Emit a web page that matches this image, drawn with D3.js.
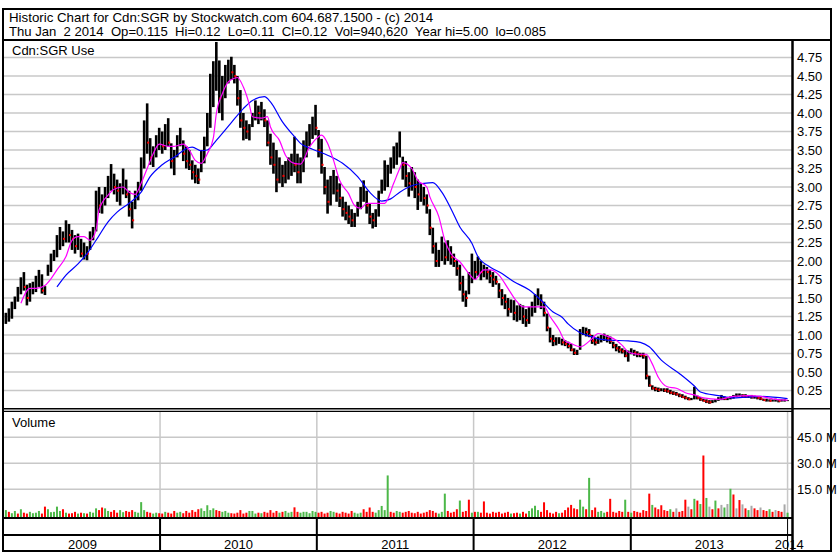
<!DOCTYPE html>
<html>
<head>
<meta charset="utf-8">
<script src="https://cdnjs.cloudflare.com/ajax/libs/d3/7.8.5/d3.min.js"></script>
<style>
body{margin:0;background:#fff}
svg text{font-family:"Liberation Sans",Arial,sans-serif}
</style>
</head>
<body>
<script>
var title1 = 'Historic Chart for Cdn:SGR by Stockwatch.com 604.687.1500 - (c) 2014'
var title2 = 'Thu Jan  2 2014  Op=0.115  Hi=0.12  Lo=0.11  Cl=0.12  Vol=940,620  Year hi=5.00  lo=0.085'
var priceLabel = 'Cdn:SGR Use'
var volLabel = 'Volume'
var years = ['2009','2010','2011','2012','2013','2014']
var priceTicks = [0.25,0.5,0.75,1,1.25,1.5,1.75,2,2.25,2.5,2.75,3,3.25,3.5,3.75,4,4.25,4.5,4.75]
var volTicks = [15,30,45]

// weekly bars, first week starts Mon Jan 5 2009
var high = [
	1.30,1.36,1.45,1.52,1.65,1.78,1.85,1.68,1.70,1.72,
	1.80,1.88,1.82,1.66,1.95,2.10,2.15,2.35,2.46,2.40,
	2.55,2.50,2.42,2.35,2.37,2.30,2.25,2.20,2.40,2.46,
	2.95,3.00,2.90,3.00,3.15,3.31,3.18,3.10,3.05,3.25,
	3.10,2.95,2.80,2.95,3.07,3.40,3.90,4.13,3.66,3.55,
	3.70,3.80,3.75,3.85,3.93,3.59,3.50,3.70,3.80,3.63,
	3.55,3.50,3.36,3.30,3.25,3.50,3.68,4.00,4.53,4.70,
	4.96,4.71,4.50,4.65,4.72,4.76,4.65,4.50,4.31,4.00,
	3.90,3.85,4.00,4.17,4.10,4.15,4.05,3.90,3.72,3.60,
	3.50,3.40,3.30,3.35,3.40,3.45,3.68,3.45,3.40,3.63,
	3.75,3.85,3.95,4.11,3.77,3.65,3.27,3.10,3.15,3.23,
	3.15,3.05,2.87,2.80,2.75,2.70,2.65,2.80,3.00,3.09,
	2.95,2.78,2.65,2.70,2.95,3.10,3.36,3.30,3.40,3.55,
	3.60,3.75,3.41,3.35,3.20,3.27,3.20,3.10,3.05,3.00,
	2.90,2.70,2.45,2.25,2.15,2.33,2.25,2.28,2.20,2.10,
	2.01,1.95,1.80,1.60,1.85,2.10,2.00,2.06,2.00,1.95,
	1.92,1.88,1.85,1.80,1.70,1.62,1.55,1.50,1.48,1.47,
	1.40,1.42,1.40,1.35,1.38,1.45,1.55,1.63,1.55,1.45,
	1.29,1.10,1.00,0.97,0.97,0.95,0.93,0.91,0.88,0.82,
	0.80,1.08,1.11,1.10,1.08,1.00,0.96,0.98,1.00,1.02,
	1.00,0.98,0.91,0.88,0.85,0.82,0.80,0.79,0.82,0.80,
	0.78,0.76,0.76,0.72,0.45,0.32,0.30,0.29,0.28,0.28,
	0.28,0.26,0.24,0.23,0.21,0.20,0.18,0.16,0.15,0.30,
	0.18,0.16,0.14,0.13,0.12,0.12,0.13,0.16,0.19,0.17,
	0.16,0.17,0.19,0.21,0.21,0.20,0.20,0.19,0.19,0.18,
	0.17,0.16,0.14,0.14,0.13,0.13,0.14,0.13,0.13,0.13,0.12]
var low = [
	1.15,1.18,1.22,1.35,1.45,1.55,1.60,1.40,1.45,1.55,
	1.58,1.65,1.56,1.54,1.80,1.85,2.00,2.05,2.15,2.20,
	2.25,2.25,2.15,2.10,2.15,2.05,2.02,2.01,2.15,2.28,
	2.40,2.65,2.64,2.75,2.85,2.95,2.90,2.80,2.75,2.90,
	2.85,2.60,2.44,2.70,2.82,2.95,3.25,3.45,3.30,3.27,
	3.40,3.50,3.45,3.50,3.55,3.25,3.16,3.40,3.55,3.35,
	3.25,3.23,3.10,3.05,3.04,3.20,3.32,3.55,3.80,4.08,
	4.30,4.00,3.90,4.20,4.40,4.45,4.40,4.10,3.80,3.63,
	3.65,3.63,3.81,3.90,3.85,3.90,3.81,3.55,3.30,3.18,
	2.93,3.05,3.00,3.05,3.10,3.15,3.20,3.05,3.05,3.20,
	3.40,3.55,3.65,3.70,3.40,3.18,2.90,2.64,2.75,2.90,
	2.80,2.73,2.60,2.55,2.50,2.46,2.46,2.60,2.70,2.80,
	2.64,2.50,2.44,2.46,2.60,2.91,2.95,3.00,3.18,3.25,
	3.30,3.40,3.10,3.00,2.87,2.95,2.85,2.69,2.80,2.75,
	2.64,2.35,2.10,1.92,1.92,2.00,1.95,2.00,1.95,1.92,
	1.80,1.60,1.45,1.38,1.55,1.70,1.75,1.80,1.74,1.78,
	1.75,1.70,1.65,1.68,1.50,1.40,1.35,1.25,1.30,1.20,
	1.18,1.20,1.15,1.11,1.15,1.25,1.30,1.40,1.35,1.25,
	1.05,0.90,0.85,0.86,0.88,0.86,0.85,0.82,0.78,0.73,
	0.73,0.80,1.00,0.98,0.97,0.88,0.86,0.88,0.90,0.92,
	0.90,0.88,0.82,0.78,0.76,0.75,0.70,0.64,0.74,0.72,
	0.70,0.70,0.68,0.40,0.30,0.26,0.24,0.23,0.24,0.23,
	0.22,0.20,0.19,0.18,0.16,0.15,0.13,0.12,0.12,0.13,
	0.13,0.11,0.10,0.08,0.07,0.08,0.09,0.11,0.12,0.12,
	0.12,0.13,0.14,0.16,0.17,0.16,0.15,0.15,0.14,0.14,
	0.13,0.12,0.11,0.10,0.10,0.10,0.10,0.09,0.10,0.10,0.11]
var close = [
	1.20,1.30,1.40,1.48,1.60,1.72,1.65,1.50,1.62,1.65,
	1.75,1.80,1.60,1.60,1.90,2.05,2.10,2.25,2.40,2.30,
	2.45,2.35,2.30,2.20,2.30,2.10,2.15,2.10,2.35,2.40,
	2.85,2.75,2.80,2.90,3.05,3.10,3.00,2.95,3.00,3.10,
	2.90,2.70,2.55,2.85,2.95,3.30,3.70,3.60,3.40,3.45,
	3.60,3.65,3.55,3.70,3.60,3.35,3.40,3.60,3.70,3.45,
	3.35,3.30,3.20,3.15,3.10,3.45,3.55,3.90,4.30,4.50,
	4.60,4.20,4.30,4.50,4.60,4.55,4.50,4.20,3.90,3.80,
	3.75,3.80,3.95,4.05,4.00,4.00,3.90,3.60,3.40,3.30,
	3.10,3.25,3.15,3.20,3.30,3.35,3.30,3.20,3.25,3.50,
	3.65,3.75,3.85,3.80,3.50,3.30,3.00,2.80,3.00,3.05,
	2.95,2.85,2.70,2.65,2.60,2.55,2.58,2.75,2.90,2.95,
	2.75,2.60,2.55,2.62,2.90,3.00,3.20,3.20,3.30,3.45,
	3.50,3.55,3.30,3.15,3.05,3.10,3.00,2.90,2.95,2.85,
	2.75,2.45,2.20,2.00,2.05,2.20,2.05,2.15,2.05,2.00,
	1.90,1.70,1.55,1.50,1.75,1.95,1.85,1.95,1.85,1.88,
	1.85,1.80,1.75,1.72,1.60,1.50,1.45,1.35,1.40,1.30,
	1.30,1.35,1.25,1.20,1.30,1.40,1.45,1.50,1.45,1.30,
	1.10,0.95,0.92,0.92,0.92,0.90,0.88,0.85,0.80,0.76,
	0.78,1.02,1.05,1.04,1.00,0.92,0.90,0.95,0.96,0.98,
	0.95,0.92,0.86,0.82,0.80,0.78,0.72,0.76,0.78,0.76,
	0.74,0.73,0.72,0.45,0.32,0.28,0.27,0.26,0.26,0.25,
	0.24,0.22,0.21,0.20,0.18,0.16,0.15,0.13,0.13,0.18,
	0.15,0.13,0.11,0.10,0.09,0.10,0.11,0.14,0.15,0.14,
	0.14,0.15,0.17,0.19,0.19,0.18,0.17,0.17,0.16,0.16,
	0.15,0.14,0.12,0.12,0.11,0.11,0.12,0.11,0.11,0.12,0.12]
// volume in millions, one bar per week
var volume = [
	3.0,2.0,1.2,2.5,1.0,3.5,1.5,1.0,2.0,1.2,
	1.5,2.5,1.0,5.0,3.5,1.8,2.0,5.0,2.5,3.5,
	1.5,1.0,1.2,2.0,1.0,1.5,1.2,1.0,2.0,1.5,
	4.0,3.0,4.5,4.0,2.5,2.0,3.0,1.5,3.0,1.8,
	2.5,2.0,3.0,2.0,1.5,7.6,3.0,2.0,1.5,1.0,
	1.5,1.2,1.0,2.0,1.5,1.0,2.5,1.5,2.0,1.2,
	2.5,1.5,3.0,2.0,3.5,4.0,2.5,5.8,3.0,4.0,
	3.0,2.5,2.0,2.5,1.5,1.2,1.0,1.5,3.0,1.0,
	1.5,2.5,2.5,1.0,1.5,1.2,2.0,1.5,3.0,1.5,
	2.5,1.5,2.0,2.5,1.5,2.0,4.6,2.0,1.5,2.0,
	2.0,1.2,2.5,2.0,1.5,2.0,1.0,1.5,2.5,2.0,
	1.5,1.0,2.0,1.5,1.0,2.5,1.5,1.0,1.5,3.5,
	2.0,4.5,2.0,1.5,3.0,5.4,3.0,23.0,2.0,1.5,
	2.5,2.0,1.5,2.0,2.5,1.5,1.2,2.0,1.0,1.5,
	2.0,3.0,2.5,1.5,1.0,2.0,12.5,2.5,1.5,2.0,
	3.5,8.5,2.0,2.5,9.0,1.5,2.0,2.0,1.5,8.0,
	1.5,1.0,2.0,1.5,2.0,1.0,1.5,2.0,1.0,1.2,
	1.5,1.0,2.0,1.0,2.5,4.0,5.5,3.0,2.0,7.5,
	3.0,1.5,1.0,2.0,1.2,1.5,3.0,4.5,6.0,4.0,
	3.5,9.0,5.0,3.5,21.6,3.0,4.5,2.0,2.5,1.5,
	2.0,9.5,2.0,1.5,2.5,2.0,9.0,2.0,1.5,2.5,
	2.0,1.5,3.0,2.5,12.5,6.0,4.5,3.5,5.8,3.0,
	2.5,3.5,2.0,4.0,2.0,2.5,9.0,5.0,3.5,9.5,
	8.5,6.5,34.5,10.0,5.0,3.5,8.5,4.0,6.0,4.5,
	6.5,15.3,12.0,4.0,8.8,6.3,4.0,3.0,5.5,4.0,
	3.0,4.5,3.0,2.5,3.5,2.0,3.0,2.5,2.0,6.3,1.5]
// g = up, r = down, n = unchanged
var volColor = (
	'grggrgrrgg' + 'ggrrgggggr' + 'grrrgrgrgg' + 'grrggrrrgg' + 'rrrggggrrg' +
	'grrgrrrggr' + 'rrrrrggggg' + 'rrgggrrrrr' + 'rgggrgrrrr' + 'rgrgggrrgg' +
	'ggggrrrrgg' + 'rrrrrrgggr' + 'rrrgggggrr' + 'ggrrrrrrrr' + 'rrrrgggrrr' +
	'rgrrrgrgrr' + 'rrrrrrrrgr' + 'rgrrggggrr' + 'rrrrgrrrrr' + 'rggrgrrggg' +
	'rrrrrrgrgr' + 'rrrrrgrrrr' + 'rgrnrrrnrg' + 'rgrgnrgrng' + 'ngrnrnrgnr' +
	'rnrrgrnrrng').split('')
// moving averages: [week, price]
var fastMA = [[5,1.43],[8,1.63],[10,1.63],[13,1.67],[15,1.76],[17,1.88],[20,2.06],[22,2.28],[24,2.33],[26,2.33],
	[28,2.28],[30,2.42],[31,2.69],[34,2.89],[36,2.97],[39,3.00],[41,2.93],[43,2.90],[45,3.05],[47,3.25],
	[49,3.45],[51,3.58],[54,3.55],[56,3.55],[59,3.58],[61,3.50],[63,3.36],[65,3.32],[67,3.45],[69,3.66],
	[70,3.99],[72,4.26],[74,4.42],[76,4.47],[77,4.48],[79,4.35],[81,4.11],[82,3.95],[85,3.93],[87,3.95],
	[88,3.81],[91,3.63],[93,3.43],[96,3.32],[98,3.31],[101,3.54],[104,3.68],[105,3.70],[107,3.59],[109,3.36],
	[111,3.09],[114,2.91],[116,2.75],[118,2.71],[120,2.78],[124,2.78],[126,2.78],[129,3.05],[131,3.25],[132,3.33],
	[135,3.25],[137,3.09],[140,3.00],[141,2.87],[144,2.60],[146,2.28],[148,2.10],[151,1.99],[154,1.83],[156,1.75],
	[159,1.88],[161,1.88],[164,1.81],[167,1.63],[170,1.45],[172,1.38],[176,1.38],[179,1.38],[181,1.25],[184,1.07],
	[186,0.92],[188,0.885],[191,0.84],[195,0.95],[197,1.02],[200,0.985],[203,0.93],[205,0.86],[207,0.77],[210,0.74],
	[213,0.74],[215,0.61],[217,0.43],[220,0.30],[223,0.28],[226,0.22],[229,0.19],[232,0.15],[237,0.13],[242,0.17],
	[247,0.18],[251,0.17],[256,0.13],[260,0.12]]
var slowMA = [[17,1.65],[20,1.81],[24,1.96],[27,2.10],[30,2.28],[34,2.53],[37,2.66],[41,2.78],[45,2.93],[48,3.14],
	[52,3.30],[57,3.43],[60,3.52],[62,3.54],[65,3.49],[67,3.50],[70,3.63],[75,3.87],[79,4.06],[82,4.17],
	[86,4.22],[88,4.15],[92,3.88],[96,3.68],[98,3.59],[102,3.51],[107,3.43],[112,3.32],[117,3.14],[121,2.93],
	[125,2.81],[128,2.84],[131,2.93],[136,3.03],[139,3.05],[142,3.06],[145,2.93],[148,2.71],[151,2.46],[155,2.24],
	[157,2.06],[161,1.92],[165,1.83],[169,1.72],[174,1.61],[178,1.47],[182,1.31],[185,1.24],[187,1.15],[191,1.03],
	[195,0.975],[198,0.94],[201,0.93],[207,0.92],[211,0.90],[214,0.84],[218,0.66],[224,0.48],[229,0.31],[231,0.23],
	[237,0.18],[242,0.15],[251,0.17],[260,0.14]]

var font = '"Liberation Sans",Arial,sans-serif'
var svg = d3.select('body').append('svg').attr('width',838).attr('height',556)
svg.append('rect').attr('width',838).attr('height',556).attr('fill','#fff')

var x  = d3.scaleTime().domain([new Date(2009,0,5),new Date(2014,0,2)]).range([5,788])
var y  = d3.scaleLinear().domain([0,5]).range([409,39])
var yv = d3.scaleLinear().domain([0,60]).range([515.3,411.3])
var plotL = 4, plotR = 792, volBase = 517

var weeks = d3.timeMonday.range(new Date(2009,0,5),new Date(2014,0,1))
function wx(i){ return x(new Date(weeks[0].getTime() + (i*7+2)*864e5)) }
var yearStarts = d3.timeYear.range(new Date(2010,0,1),new Date(2014,0,2))

svg.append('clipPath').attr('id','frameClip').append('rect')
	.attr('x',0).attr('y',0).attr('width',830).attr('height',556)
svg.append('clipPath').attr('id','priceClip').append('rect')
	.attr('x',plotL).attr('y',41).attr('width',plotR-plotL).attr('height',367)

// grid
var grid = svg.append('g').attr('id','grid').attr('stroke','#c8c8c8').attr('stroke-width',1.5)
priceTicks.forEach(function(t){
	grid.append('line').attr('x1',plotL).attr('x2',plotR).attr('y1',y(t)).attr('y2',y(t))
})
volTicks.forEach(function(t){
	grid.append('line').attr('x1',plotL).attr('x2',plotR).attr('y1',yv(t)).attr('y2',yv(t))
})
yearStarts.forEach(function(d){
	grid.append('line').attr('x1',x(d)).attr('x2',x(d)).attr('y1',412).attr('y2',volBase)
})

// price bars
var bars = svg.append('g').attr('id','bars').attr('clip-path','url(#priceClip)')
high.forEach(function(h,i){
	var cx = wx(i)
	bars.append('rect').attr('x',cx-1.3).attr('width',2.6)
		.attr('y',y(h)).attr('height',Math.max(1,y(low[i])-y(h))).attr('fill','#000')
})
close.forEach(function(c,i){
	if(i>0 && c<close[i-1]){
		bars.append('rect').attr('x',wx(i)).attr('width',2)
			.attr('y',y(c)-1).attr('height',2).attr('fill','#ff0000')
	}
})

// moving averages
var maLine = d3.line()
	.x(function(d){ return wx(d[0]) })
	.y(function(d){ return y(d[1]) })
	.curve(d3.curveMonotoneX)
bars.append('path').datum(slowMA).attr('d',maLine)
	.attr('fill','none').attr('stroke','#0000ff').attr('stroke-width',1.2)
bars.append('path').datum(fastMA).attr('d',maLine)
	.attr('fill','none').attr('stroke','#ff00ff').attr('stroke-width',1.2)

// volume bars
var colorOf = {g:'#4cb848',r:'#ff0000',n:'#a8a8a8'}
var vol = svg.append('g').attr('id','volume')
volume.forEach(function(v,i){
	vol.append('rect').attr('x',wx(i)-1).attr('width',2)
		.attr('y',yv(v)).attr('height',volBase-yv(v)).attr('fill',colorOf[volColor[i]])
})

// right axes
var pAxis = svg.append('g').attr('transform','translate(793,0)')
	.call(d3.axisRight(y).tickValues(priceTicks).tickSize(0).tickPadding(4).tickFormat(d3.format('.2f')))
pAxis.select('.domain').remove()
pAxis.attr('font-size',13).attr('font-family',font)
pAxis.selectAll('text').attr('fill','#000')

var vAxis = svg.append('g').attr('transform','translate(793,0)').attr('clip-path','url(#frameClip)')
	.call(d3.axisRight(yv).tickValues(volTicks).tickSize(0).tickPadding(4)
		.tickFormat(function(d){ return d3.format('.1f')(d) + ' M' }))
vAxis.select('.domain').remove()
vAxis.attr('font-size',13).attr('font-family',font)
vAxis.selectAll('text').attr('fill','#000')

// frame
var frame = svg.append('g').attr('id','frame').attr('stroke','#000').attr('fill','none')
frame.append('rect').attr('x',3).attr('y',9).attr('width',828).attr('height',542).attr('stroke-width',2)
frame.append('line').attr('x1',3).attr('x2',831).attr('y1',40).attr('y2',40).attr('stroke-width',2)
frame.append('line').attr('x1',3).attr('x2',831).attr('y1',408.8).attr('y2',408.8).attr('stroke-width',1.6)
frame.append('line').attr('x1',3).attr('x2',793).attr('y1',411.4).attr('y2',411.4).attr('stroke-width',1.4)
frame.append('line').attr('x1',3).attr('x2',793).attr('y1',518).attr('y2',518).attr('stroke-width',2)
frame.append('line').attr('x1',3).attr('x2',793).attr('y1',535).attr('y2',535).attr('stroke-width',2)
frame.append('line').attr('x1',792.5).attr('x2',792.5).attr('y1',40).attr('y2',551).attr('stroke-width',2.5)
yearStarts.forEach(function(d,i){
	frame.append('line').attr('x1',x(d)).attr('x2',x(d)).attr('y1',518).attr('y2',551)
		.attr('stroke-width',i==yearStarts.length-1 ? 1 : 2)
})

// year labels
var cellStart = [x.domain()[0]].concat(yearStarts)
years.forEach(function(yr,i){
	var a = x(cellStart[i])
	var b = i < yearStarts.length ? x(yearStarts[i]) : 791
	svg.append('text').text(yr).attr('x',(a+b)/2).attr('y',548.5)
		.attr('text-anchor','middle').attr('font-size',13).attr('fill','#000')
})

// texts
svg.append('text').text(title1).attr('x',9).attr('y',21.8).attr('font-size',13.3).attr('fill','#000')
svg.append('text').text(title2).attr('x',9).attr('y',35.8).attr('font-size',13.1).attr('fill','#000')
	.attr('xml:space','preserve').style('white-space','pre')
svg.append('text').text(priceLabel).attr('x',12).attr('y',54.5).attr('font-size',13).attr('fill','#000')
svg.append('text').text(volLabel).attr('x',12).attr('y',427).attr('font-size',13).attr('fill','#000')
</script>
</body>
</html>
